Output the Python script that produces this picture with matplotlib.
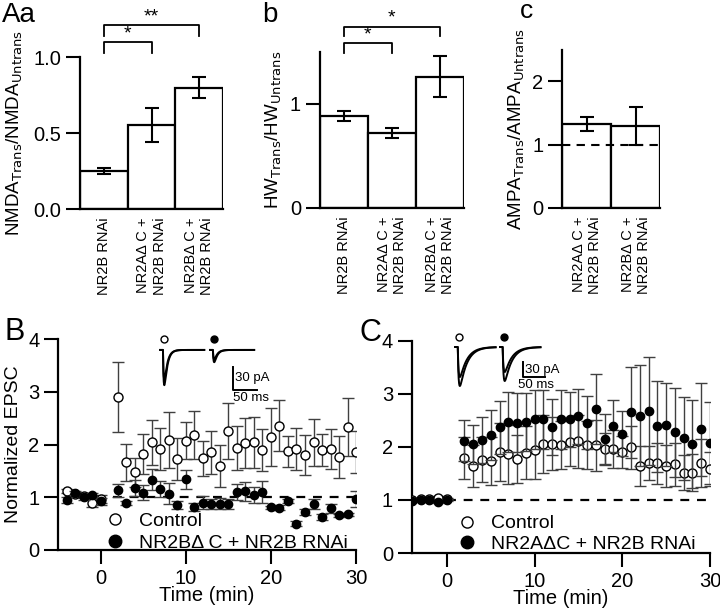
import numpy as np
import matplotlib
matplotlib.use("Agg")
import matplotlib.pyplot as plt
from matplotlib.lines import Line2D

plt.rcParams['font.family'] = ['Liberation Sans', 'DejaVu Sans']
plt.rcParams['font.size'] = 12

# ---- bar panels ----
bar_labels3 = ['NR2B RNAi', 'NR2A\u0394 C +\nNR2B RNAi', 'NR2B\u0394 C +\nNR2B RNAi']
bar_labels2 = ['NR2A\u0394 C +\nNR2B RNAi', 'NR2B\u0394 C +\nNR2B RNAi']

nmda_vals = [0.25, 0.555, 0.80]
nmda_err = [0.02, 0.11, 0.07]
hw_vals = [0.88, 0.72, 1.26]
hw_err = [0.05, 0.05, 0.20]
ampa_vals = [1.32, 1.29]
ampa_err = [0.11, 0.30]

# ---- time course panels ----
t_base = [-4, -3, -2, -1, 0]
t_post = list(range(2, 31))

B_ctrl_base = [1.12, 1.06, 1.03, 0.90, 0.97]
B_ctrl_base_err = [0.04, 0.04, 0.05, 0.08, 0.07]
B_ctrl = [2.90, 1.66, 1.47, 1.82, 2.04, 1.91, 2.09, 1.73, 2.07, 2.18,
          1.74, 1.85, 1.60, 2.26, 1.94, 2.03, 2.04, 1.90, 2.15, 2.36,
          1.87, 1.92, 1.81, 2.04, 1.90, 1.92, 1.77, 2.34, 1.86]
B_ctrl_err = [0.66, 0.35, 0.28, 0.38, 0.42, 0.40, 0.53, 0.40, 0.35, 0.45,
              0.33, 0.40, 0.40, 0.53, 0.42, 0.48, 0.48, 0.40, 0.55, 0.48,
              0.30, 0.40, 0.38, 0.45, 0.30, 0.38, 0.40, 0.55, 0.40]
B_mut_base = [0.95, 1.08, 1.00, 1.04, 0.92]
B_mut_base_err = [0.05, 0.04, 0.05, 0.04, 0.07]
B_mut = [1.13, 0.89, 1.17, 1.09, 1.33, 1.16, 1.07, 0.85, 1.34, 0.81,
         0.90, 0.87, 0.88, 0.87, 1.10, 1.11, 1.05, 1.10, 0.81, 0.80,
         0.93, 0.50, 0.72, 0.87, 0.63, 0.79, 0.66, 0.68, 0.97]
B_mut_err = [0.12, 0.04, 0.15, 0.15, 0.20, 0.15, 0.20, 0.07, 0.18, 0.08,
             0.12, 0.10, 0.10, 0.10, 0.15, 0.18, 0.15, 0.20, 0.03, 0.05,
             0.03, 0.05, 0.06, 0.10, 0.06, 0.08, 0.03, 0.03, 0.15]

C_ctrl_base = [1.00, 1.02, 1.02, 1.04, 1.01]
C_ctrl_base_err = [0.02, 0.02, 0.02, 0.03, 0.02]
C_ctrl = [1.79, 1.64, 1.76, 1.74, 1.91, 1.86, 1.77, 1.89, 1.94, 2.06,
          2.06, 2.04, 2.09, 2.11, 2.03, 2.03, 1.96, 1.96, 1.91, 1.99,
          1.64, 1.70, 1.69, 1.64, 1.67, 1.51, 1.51, 1.69, 1.59]
C_ctrl_err = [0.40, 0.40, 0.42, 0.45, 0.55, 0.55, 0.45, 0.50, 0.55, 0.55,
              0.50, 0.45, 0.45, 0.50, 0.45, 0.48, 0.30, 0.35, 0.30, 0.40,
              0.37, 0.32, 0.38, 0.40, 0.40, 0.33, 0.35, 0.45, 0.32]
C_mut_base = [0.98, 1.00, 1.00, 0.96, 1.00]
C_mut_base_err = [0.02, 0.02, 0.02, 0.02, 0.02]
C_mut = [2.12, 2.05, 2.13, 2.22, 2.37, 2.47, 2.46, 2.47, 2.52, 2.52,
         2.38, 2.52, 2.52, 2.58, 2.46, 2.71, 2.15, 2.39, 2.25, 2.65,
         2.59, 2.67, 2.39, 2.42, 2.28, 2.16, 2.06, 2.33, 2.08]
C_mut_err = [0.38, 0.37, 0.44, 0.47, 0.50, 0.57, 0.56, 0.55, 0.55, 0.55,
             0.53, 0.55, 0.52, 0.52, 0.50, 0.66, 0.47, 0.49, 0.43, 0.85,
             0.95, 1.02, 0.86, 0.78, 0.84, 0.78, 0.83, 0.88, 0.77]

# example EPSC amplitudes (pA) shown in the insets: (before, after)
B_amp_ctrl = [46, 38]
B_amp_mut = [16, 12]
C_amp_ctrl = [78, 60]
C_amp_mut = [68, 50]

fig = plt.figure(figsize=(7.2, 6.15), dpi=100)


def style_axes(ax):
    for s in ['top', 'right']:
        ax.spines[s].set_visible(False)
    for s in ['left', 'bottom']:
        ax.spines[s].set_linewidth(1.6)
    ax.tick_params(direction='out', length=10, width=1.5, labelsize=14.5)


def bracket(ax, x0, x1, y0, y1, label):
    ax.plot([x0, x0, x1, x1], [y0, y1, y1, y0], color='black', lw=1.3, clip_on=False)
    ax.text((x0 + x1) / 2, y1, label, ha='center', va='bottom', fontsize=14, clip_on=False)


def bar_panel(rect, vals, errs, labels, ylim, yticks, yticklabels, ylabel):
    ax = fig.add_axes(rect)
    x = np.arange(len(vals))
    ax.bar(x, vals, width=1.0, color='white', edgecolor='black', linewidth=1.6,
           yerr=errs, capsize=5, error_kw=dict(elinewidth=1.5, capthick=1.5))
    ax.set_xlim(-0.5, len(vals) - 0.5)
    ax.set_ylim(*ylim)
    ax.set_yticks(yticks)
    ax.set_yticklabels(yticklabels)
    ax.set_xticks(x)
    ax.set_xticklabels(labels, rotation=90, fontsize=10.5, va='top', ha='center',
                       multialignment='right')
    style_axes(ax)
    ax.tick_params(axis='x', length=0, pad=6, labelsize=10.5)
    ax.set_ylabel(ylabel, fontsize=13.5)
    return ax

axA = bar_panel([0.111, 0.660, 0.199, 0.247], nmda_vals, nmda_err, bar_labels3,
                (0, 1.0), [0, 0.5, 1.0], ['0.0', '0.5', '1.0'],
                r'NMDA$_{\rm Trans}$/NMDA$_{\rm Untrans}$')
axA.yaxis.labelpad = 6
bracket(axA, 0, 1, 1.03, 1.10, '*')
bracket(axA, 0, 2, 1.14, 1.21, '**')
axA.text(-0.545, 1.23, 'Aa', transform=axA.transAxes, fontsize=20)

axb = bar_panel([0.444, 0.662, 0.200, 0.254], hw_vals, hw_err, bar_labels3,
                (0, 1.5), [0, 1], ['0', '1'],
                r'HW$_{\rm Trans}$/HW$_{\rm Untrans}$')
bracket(axb, 0, 1, 1.49, 1.58, '*')
bracket(axb, 0, 2, 1.65, 1.74, '*')
axb.text(-0.40, 1.19, 'b', transform=axb.transAxes, fontsize=20)

axc = bar_panel([0.781, 0.662, 0.136, 0.257], ampa_vals, ampa_err, bar_labels2,
                (0, 2.5), [0, 1, 2], ['0', '1', '2'],
                r'AMPA$_{\rm Trans}$/AMPA$_{\rm Untrans}$')
axc.axhline(1, color='black', lw=1.5, ls=(0, (4, 3)), zorder=3)
axc.text(-0.43, 1.20, 'c', transform=axc.transAxes, fontsize=19)


def time_panel(rect, xlim, ctrl_b, ctrl_be, ctrl, ctrl_e, mut_b, mut_be, mut, mut_e,
               dash_start, mut_label, leg_anchor, spacing):
    ax = fig.add_axes(rect)
    eb = dict(fmt='o', ecolor='0.25', elinewidth=1, capsize=4, capthick=1)
    ax.errorbar(t_base + t_post, ctrl_b + ctrl, yerr=ctrl_be + ctrl_e,
                mfc='white', mec='black', ms=6.5, mew=1, zorder=3, **eb)
    ax.errorbar(t_base + t_post, mut_b + mut, yerr=mut_be + mut_e,
                mfc='black', mec='black', ms=6, zorder=4, **eb)
    ax.plot([dash_start, 30], [1, 1], color='black', lw=1.6, ls=(0, (4, 3.5)), zorder=2)
    ax.set_xlim(*xlim)
    ax.set_ylim(0, 4)
    ax.set_xticks([0, 10, 20, 30])
    ax.set_yticks([0, 1, 2, 3, 4])
    style_axes(ax)
    ax.set_xlabel('Time (min)', fontsize=14.5, labelpad=-1)
    handles = [Line2D([], [], ls='none', marker='o', mfc='white', mec='black', ms=8, mew=1),
               Line2D([], [], ls='none', marker='o', mfc='black', mec='black', ms=9)]
    ax.legend(handles, ['Control', mut_label], loc='lower left', bbox_to_anchor=leg_anchor,
              frameon=False, fontsize=14, handletextpad=0.7, labelspacing=spacing,
              borderpad=0, borderaxespad=0, handlelength=1)
    return ax

axB = time_panel([0.0806, 0.1057, 0.414, 0.343], (-5, 30),
                 B_ctrl_base, B_ctrl_base_err, B_ctrl, B_ctrl_err,
                 B_mut_base, B_mut_base_err, B_mut, B_mut_err,
                 1.5, 'NR2B\u0394 C + NR2B RNAi', (0.16, -0.01), 0.25)
axB.set_ylabel('Normalized EPSC', fontsize=14)
axB.text(-0.178, 0.995, 'B', transform=axB.transAxes, fontsize=22)

axC = time_panel([0.572, 0.1008, 0.414, 0.345], (-4, 30),
                 C_ctrl_base, C_ctrl_base_err, C_ctrl, C_ctrl_err,
                 C_mut_base, C_mut_base_err, C_mut, C_mut_err,
                 0, 'NR2A\u0394C + NR2B RNAi', (0.153, 0.0), 0.15)
axC.text(-0.175, 1.0, 'C', transform=axC.transAxes, fontsize=22)


# ---- inset EPSC traces (axes in ms / pA) ----
def epsc(t, amp, onset, tau_r, tau_d):
    s = np.clip(t - onset, 0, None)
    w = np.exp(-s / tau_d) - np.exp(-s / tau_r)
    return -amp * w / w.max()


def trace_inset(px_rect, scale, amps1, amps2, starts, base, tau, circ_y, bar_xy, lbl_off):
    x0, y0, w, h = px_rect
    ax = fig.add_axes([x0 / 720, 1 - (y0 + h) / 615, w / 720, h / 615])
    ax.set_xlim(0, w * scale[0])
    ax.set_ylim(-h * scale[1], 0)
    ax.axis('off')
    tt = np.linspace(0, 92, 400)
    for start, amps, face in [(starts[0], amps1, 'white'), (starts[1], amps2, 'black')]:
        for a in amps:
            ax.plot(start + tt, base + epsc(tt, a, tau[0], tau[1], tau[2]),
                    color='black', lw=1.4, clip_on=False)
        ax.plot(start + 8, circ_y, 'o', mfc=face, mec='black', ms=5, mew=1, clip_on=False)
    bx, by = bar_xy
    ax.plot([bx, bx, bx + 50], [by + 30, by, by], color='black', lw=1.4, clip_on=False)
    ax.text(bx + lbl_off[0], by + 15, '30 pA', fontsize=9.5, va='center')
    ax.text(bx + lbl_off[1], by - 3, '50 ms', fontsize=9.5, va='top')
    return ax

trace_inset((150, 330, 115, 82), (50 / 24, 30 / 23), B_amp_ctrl, B_amp_mut,
            (21, 125), -26, (6, 1.5, 6), -12, (173, -78), (5, 0))
trace_inset((445, 328, 115, 72), (50 / 22, 2.0), C_amp_ctrl, C_amp_mut,
            (23, 125), -38, (6, 2.0, 16), -18, (177, -98), (5, -12))

fig.savefig('out.png', dpi=100)
